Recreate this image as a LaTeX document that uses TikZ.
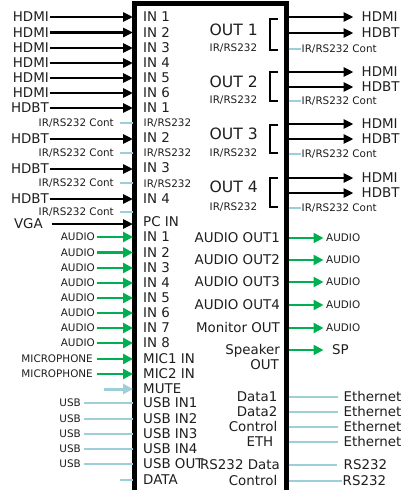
\documentclass[tikz,border=0pt]{standalone}
\usepackage{fontspec}
\setmainfont{DejaVu Sans}
\usetikzlibrary{arrows.meta}
\definecolor{grn}{RGB}{0,176,80}
\definecolor{lblue}{RGB}{156,207,216}
\definecolor{txt}{RGB}{30,30,30}
\begin{document}
\begin{tikzpicture}[x=1pt,y=-1pt,
  lblM/.style={font=\fontsize{13.4}{14}\selectfont, inner sep=0.5pt, text height=9.8pt, text depth=0pt, text=txt},
  lblS/.style={font=\fontsize{10.4}{11}\selectfont, inner sep=0.5pt, text height=7.6pt, text depth=0pt, text=txt},
  lblL/.style={font=\fontsize{15.6}{16}\selectfont, inner sep=0.5pt, text height=11.4pt, text depth=0pt, text=txt},
  blkarr/.style={line width=2.6pt, -{Triangle[length=10pt,width=9pt]}},
  grnarr/.style={grn, line width=2.6pt, -{Triangle[length=10pt,width=10pt]}},
  bluarr/.style={lblue, line width=3pt, -{Triangle[length=10pt,width=10pt]}},
  lbline/.style={lblue, line width=2pt},
  brk/.style={line width=1.6pt, line join=miter}
]
\useasboundingbox (0,0) rectangle (401,490);
% main box
\draw[line width=5pt, line join=miter] (134.5,492) -- (134.5,3.5) -- (286,3.5) -- (286,492);
\coordinate (BL) at (133,0);
\coordinate (BR) at (288.5,0);

% ---------- left video inputs ----------
\foreach \y [count=\i] in {17,32.5,48,63,78,93} {
  \node[lblM,anchor=east] (hdmi\i) at (49.5,\y) {HDMI};
  \draw[blkarr] (hdmi\i.east) -- (hdmi\i.east -| BL);
}
\foreach \y [count=\i] in {108,139,169,199} {
  \node[lblM,anchor=east] (hdbt\i) at (49.5,\y) {HDBT};
  \draw[blkarr] (hdbt\i.east) -- (hdbt\i.east -| BL);
}
\foreach \y [count=\i] in {123,153,183,212} {
  \node[lblS,anchor=east] (irl\i) at (114.5,\y) {IR/RS232 Cont};
  \draw[lbline] ([xshift=5.5pt]irl\i.east) -- (irl\i.east -| BL);
}
\node[lblM,anchor=east] (vga) at (43.5,224) {VGA};
\draw[blkarr] ([xshift=8pt]vga.east) -- (vga.east -| BL);

% inside left labels
\foreach \y/\t [count=\i] in {17/IN 1,32.5/IN 2,47.5/IN 3,62.5/IN 4,77.5/IN 5,92.5/IN 6,107.5/IN 1,138/IN 2,168/IN 3,199/IN 4,222/PC IN} {
  \node[lblM,anchor=west] (vin\i) at (142.5,\y) {\t};
}
\foreach \y [count=\i] in {123,153,184} {
  \node[lblS,anchor=west] (irin\i) at (143,\y) {IR/RS232};
}

% ---------- audio inputs ----------
\foreach \y [count=\i] in {237,252.5,268,283,298,313,328,343} {
  \node[lblS,anchor=east] (ain\i) at (95.5,\y) {AUDIO};
  \draw[grnarr] ([xshift=1.5pt]ain\i.east) -- (ain\i.east -| BL);
  \node[lblM,anchor=west] (ainl\i) at (142.5,\y) {IN \i};
}
\foreach \y [count=\i] in {359,374} {
  \node[lblS,anchor=east] (mic\i) at (93.5,\y) {MICROPHONE};
  \draw[grnarr] ([xshift=3.5pt]mic\i.east) -- (mic\i.east -| BL);
  \node[lblM,anchor=west] (micl\i) at (142.5,\y) {MIC\i\ IN};
}
\node[lblM,anchor=west] (mute) at (142.5,389) {MUTE};
\coordinate (mutes) at (104,389);
\draw[bluarr] (mutes) -- (mutes -| BL);
\foreach \y/\t [count=\i] in {403/USB IN1,419/USB IN2,434/USB IN3,449/USB IN4,464/USB OUT} {
  \node[lblS,anchor=east] (usb\i) at (81.5,\y) {USB};
  \draw[lbline] ([xshift=2.5pt]usb\i.east) -- (usb\i.east -| BL);
  \node[lblM,anchor=west] (usbl\i) at (142.5,\y) {\t};
}
\node[lblM,anchor=west] (data) at (142.5,480) {DATA};
\coordinate (datas) at (120,480);
\draw[lbline] (datas) -- (datas -| BL);

% ---------- right video outputs ----------
\foreach \y/\t [count=\i] in {17/HDMI,33/HDBT,72/HDMI,87/HDBT,124/HDMI,139/HDBT,178/HDMI,193/HDBT} {
  \node[lblM,anchor=west] (vo\i) at (361,\y) {\t};
  \draw[blkarr] (vo\i.west -| BR) -- ([xshift=-7.5pt]vo\i.west);
}
\foreach \y [count=\i] in {49,101,154,208} {
  \node[lblS,anchor=west] (iro\i) at (301,\y) {IR/RS232 Cont};
  \draw[lbline] (iro\i.west -| BR) -- (iro\i.west);
}
\foreach \y/\s [count=\i] in {30/48,82/100,134/153,187/207} {
  \node[lblL,anchor=west] (out\i) at (209,\y) {OUT \i};
  \node[lblS,anchor=west] (outir\i) at (209,\s) {IR/RS232};
}
\foreach \a/\b in {19/50,72/101,125/153,178/207} {
  \draw[brk] (278,\a) -- (270,\a) -- (270,\b) -- (278,\b);
}

% ---------- audio outputs ----------
\foreach \y/\t [count=\i] in {238/AUDIO OUT1,260/AUDIO OUT2,282/AUDIO OUT3,305/AUDIO OUT4,328/Monitor OUT} {
  \node[lblM,anchor=east] (aol\i) at (280.5,\y) {\t};
  \node[lblS,anchor=west] (ao\i) at (325.5,\y) {AUDIO};
  \draw[grnarr] (ao\i.west -| BR) -- ([xshift=-2pt]ao\i.west);
}
\node[lblM,anchor=east] (spk) at (280.5,350) {Speaker};
\node[lblM,anchor=east] (spk2) at (279.5,365) {OUT};
\node[lblM,anchor=west] (sp) at (331.5,350) {SP};
\draw[grnarr] (sp.west -| BR) -- ([xshift=-8pt]sp.west);

% ---------- data ----------
\foreach \y/\t/\r [count=\i] in {397/Data1/278,412/Data2/278,427/Control/278,442/ETH/274} {
  \node[lblM,anchor=east] (dl\i) at (\r,\y) {\t};
  \node[lblM,anchor=west] (eth\i) at (343,\y) {Ethernet};
  \draw[lbline] (eth\i.west -| BR) -- ([xshift=-5pt]eth\i.west);
}
\node[lblM,anchor=east] (rsd) at (280.5,465) {RS232 Data};
\node[lblM,anchor=west] (rs1) at (343,465) {RS232};
\draw[lbline] (rs1.west -| BR) -- ([xshift=-6pt]rs1.west);
\node[lblM,anchor=east] (rsc) at (278,481) {Control};
\node[lblM,anchor=west] (rs2) at (342,481) {RS232};
\draw[lbline] (rs2.west -| BR) -- (rs2.west);
\end{tikzpicture}
\end{document}
